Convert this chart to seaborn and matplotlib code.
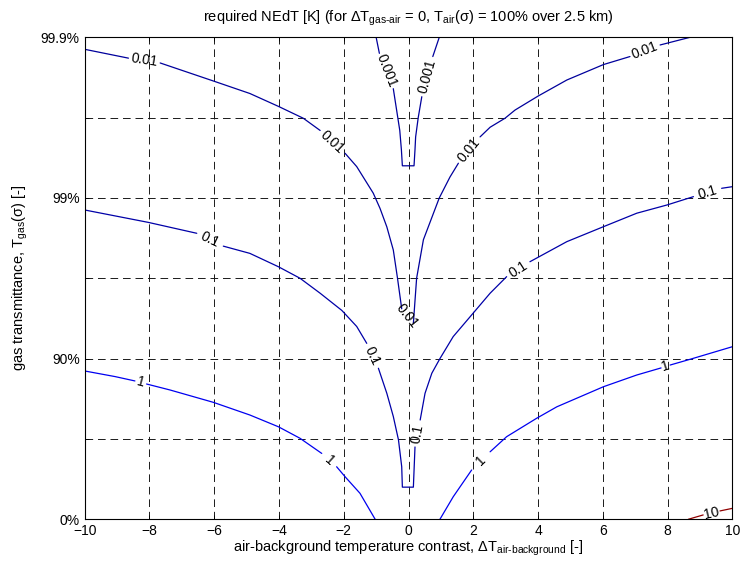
import math
import matplotlib
matplotlib.use("Agg")
import matplotlib.pyplot as plt
import pandas as pd
import seaborn as sns

# contour levels of required NEdT [K]
levels = ["0.001", "0.01", "0.1", "1", "10"]
level_colors = ["#00009c", "#00009c", "#0000a8", "#0000f0", "#8f0000"]

# each contour branch is a list of pieces, a label sits in every gap between pieces
# x = air-background contrast [K], y = -log10(1 - T_gas)
c0001_x = [[-1.0, -0.9],
           [-0.47, -0.37, -0.27, -0.22, -0.19, 0.17, 0.2, 0.22, 0.3, 0.41],
           [0.75, 0.95]]
c0001_y = [[3.0, 2.9],
           [2.68, 2.55, 2.42, 2.3, 2.2, 2.2, 2.3, 2.38, 2.5, 2.63],
           [2.88, 3.0]]

c001_x = [[-10, -8.65],
          [-7.67, -6.03, -4.9, -4.02, -3.25, -2.73],
          [-1.96, -1.6, -1.09, -0.88, -0.67, -0.47, -0.34, -0.21],
          [0.15, 0.25, 0.46, 0.95, 1.28, 1.54],
          [2.21, 2.52, 2.98, 3.29, 4.01, 4.89, 6.02, 6.84],
          [7.77, 8.7]]
c001_y = [[2.925, 2.87],
          [2.84, 2.728, 2.65, 2.57, 2.496, 2.42],
          [2.278, 2.195, 2.03, 1.935, 1.82, 1.676, 1.5, 1.31],
          [1.22, 1.5, 1.74, 2.0, 2.13, 2.216],
          [2.38, 2.44, 2.496, 2.547, 2.635, 2.734, 2.83, 2.88],
          [2.952, 3.0]]

c01_x = [[-10, -8.04, -6.54],
         [-5.72, -4.9, -4.02, -3.35, -2.73, -2.06, -1.6, -1.29],
         [-0.93, -0.67, -0.47, -0.31, -0.21, -0.19, 0.15, 0.2],
         [0.36, 0.51, 0.72, 0.97, 1.38, 1.9, 2.52, 3.03],
         [3.75, 4.89, 6.02, 7.05, 7.98, 8.8],
         [9.67, 10]]
c01_y = [[1.925, 1.848, 1.78],
         [1.70, 1.655, 1.572, 1.5, 1.407, 1.30, 1.2, 1.095],
         [0.94, 0.784, 0.64, 0.494, 0.327, 0.2, 0.2, 0.45],
         [0.618, 0.784, 0.909, 1.0, 1.137, 1.26, 1.407, 1.51],
         [1.603, 1.728, 1.821, 1.905, 1.956, 2.008],
         [2.06, 2.07]]

c1_left_x = [[-10, -9.06, -8.45],
             [-8.09, -7.37, -6.03, -4.9, -4.02, -3.35, -2.68],
             [-2.22, -1.96, -1.5, -1.03]]
c1_left_y = [[0.923, 0.888, 0.861],
             [0.842, 0.805, 0.728, 0.649, 0.576, 0.504, 0.41],
             [0.327, 0.265, 0.162, 0.0]]
c1_right_x = [[0.97, 1.38, 1.95],
              [2.52, 3.03, 3.96, 4.58, 6.02, 7.05, 7.8],
              [8.08, 8.7, 10]]
c1_right_y = [[0.0, 0.14, 0.307],
              [0.42, 0.514, 0.629, 0.70, 0.825, 0.898, 0.942],
              [0.96, 0.996, 1.074]]

c10_x = [[8.64, 9.1], [9.62, 10]]
c10_y = [[0.0, 0.027], [0.052, 0.068]]

xticks = [-10, -8, -6, -4, -2, 0, 2, 4, 6, 8, 10]
ytick_labels = ["0%", "", "90%", "", "99%", "", "99.9%"]

branches = [
    ("0.001", c0001_x, c0001_y),
    ("0.01", c001_x, c001_y),
    ("0.1", c01_x, c01_y),
    ("1", c1_left_x, c1_left_y),
    ("1", c1_right_x, c1_right_y),
    ("10", c10_x, c10_y),
]

rows = []
for b, (lev, bx, by) in enumerate(branches):
    for p, (px, py) in enumerate(zip(bx, by)):
        for xv, yv in zip(px, py):
            rows.append({"level": lev, "piece": f"{b}-{p}", "x": xv, "y": yv})
df = pd.DataFrame(rows)

sns.set_theme(style="ticks")
plt.rcParams["font.family"] = ["Liberation Sans", "DejaVu Sans"]
plt.rcParams["mathtext.fontset"] = "custom"
plt.rcParams["mathtext.rm"] = "Liberation Sans"
plt.rcParams["mathtext.it"] = "Liberation Sans:italic"
plt.rcParams["lines.scale_dashes"] = False

fig = plt.figure(figsize=(7.4, 5.62), dpi=100)
ax = fig.add_axes([0.1145, 0.076, 0.8751, 0.8577])
ax.set_xlim(-10, 10)
ax.set_ylim(0, 3)
ax.set_axisbelow(True)
ax.grid(True, linestyle=(0, (5.5, 3.5)), color="0.1", linewidth=0.7)

sns.lineplot(data=df, x="x", y="y", hue="level",
             palette=dict(zip(levels, level_colors)),
             units="piece", estimator=None, sort=False,
             legend=False, linewidth=0.9, ax=ax)

# inline contour labels
for lev, bx, by in branches:
    for i in range(len(bx) - 1):
        x0, y0 = bx[i][-1], by[i][-1]
        x1, y1 = bx[i + 1][0], by[i + 1][0]
        p0 = ax.transData.transform((x0, y0))
        p1 = ax.transData.transform((x1, y1))
        ang = math.degrees(math.atan2(p1[1] - p0[1], p1[0] - p0[0]))
        if ang > 90:
            ang -= 180
        elif ang < -90:
            ang += 180
        ax.text((x0 + x1) / 2, (y0 + y1) / 2, lev, rotation=ang,
                rotation_mode="anchor", ha="center", va="center",
                fontsize=10, color="black")

ax.set_xticks(xticks)
ax.set_yticks([i * 0.5 for i in range(len(ytick_labels))])
ax.set_yticklabels(ytick_labels)
ax.tick_params(direction="in", length=3, width=0.6, labelsize=10,
               top=True, right=True, colors="black")
for s in ax.spines.values():
    s.set_color("black")
    s.set_linewidth(0.8)

ax.set_xlabel(r"air-background temperature contrast, ΔT$_{\text{air-background}}$ [-]",
              fontsize=10.5, color="black")
ax.xaxis.set_label_coords(0.5, -0.06)
ax.xaxis.label.set_va("center")
ax.set_ylabel(r"gas transmittance, T$_{\text{gas}}$(σ) [-]", fontsize=10.5, color="black")
ax.yaxis.set_label_coords(-0.1, 0.5)
ax.yaxis.label.set_va("center")
ax.set_title(r"required NEdT [K] (for ΔT$_{\text{gas-air}}$ = 0, T$_{\text{air}}$(σ) = 100% over 2.5 km)",
             fontsize=10.5, y=1.04, pad=0, va="center", color="black")

fig.savefig("out.png", dpi=100, facecolor="white")
